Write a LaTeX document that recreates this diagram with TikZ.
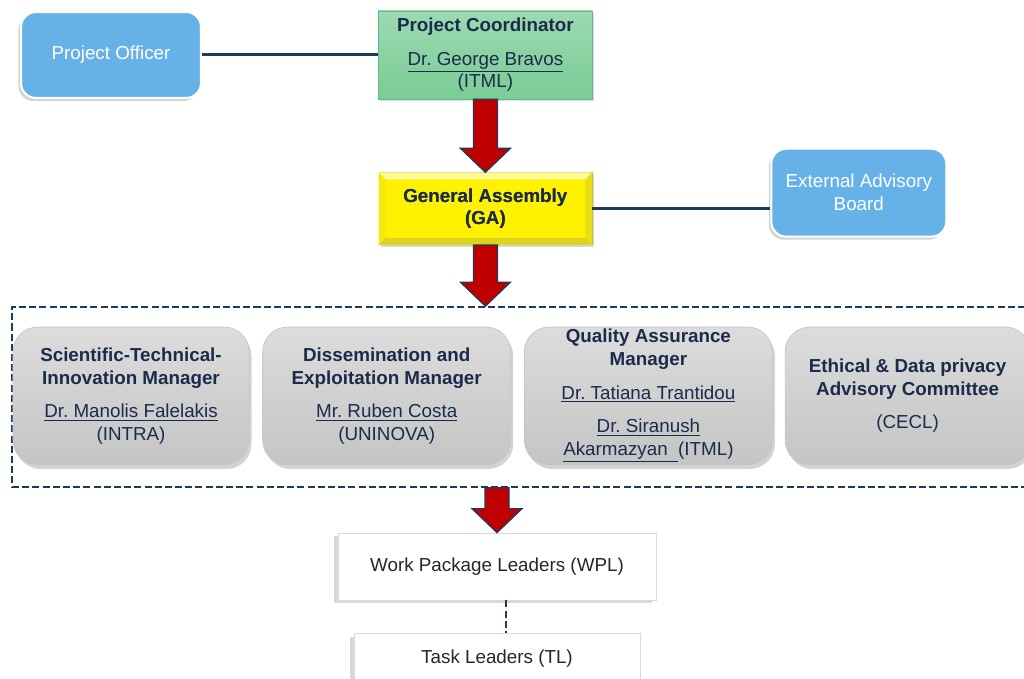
\documentclass[tikz,border=0pt]{standalone}
\usepackage{fontspec}
\setmainfont{Liberation Sans}
\usetikzlibrary{positioning}
\usetikzlibrary{calc}
\usetikzlibrary{shadows}

\definecolor{navy}{HTML}{1B2B4B}
\definecolor{linenavy}{HTML}{1F3B5C}
\definecolor{officeblue}{HTML}{66B2E8}
\definecolor{arrowred}{HTML}{C00000}
\definecolor{coordgreen}{HTML}{5BBF82}

% big red block arrow pointing down, from #1 to #2
\newcommand{\redarrow}[2]{%
  \draw[arrowbody] ($(#1)+(-0.24,0)$) -- ($(#2)+(-0.24,0.48)$) -- ($(#2)+(-0.5,0.48)$) -- (#2)
    -- ($(#2)+(0.5,0.48)$) -- ($(#2)+(0.24,0.48)$) -- ($(#1)+(0.24,0)$) -- cycle;}

\begin{document}
\frenchspacing
\begin{tikzpicture}[font=\fontsize{10.7}{13}\selectfont,
  bluebox/.style={draw=white,line width=1.2pt,fill=officeblue,text=white,rounded corners=0.3cm,
    minimum width=3.6cm,minimum height=1.72cm,align=center,drop shadow={shadow xshift=-0.05cm,shadow yshift=-0.06cm,opacity=0.35}},
  graybox/.style={draw=gray!45,top color=gray!27,bottom color=gray!46,rounded corners=0.5cm,text=navy,
    minimum width=4.9cm,minimum height=2.76cm,inner sep=0pt,align=center,drop shadow={shadow xshift=0.05cm,shadow yshift=-0.08cm,opacity=0.35}},
  whitebox/.style={draw=gray!30,fill=white,text=black!85,align=center,
    drop shadow={shadow xshift=-0.08cm,shadow yshift=-0.06cm,opacity=0.3}},
  arrowbody/.style={fill=arrowred,draw=linenavy,line width=0.7pt,line join=miter},
  link/.style={draw=linenavy,line width=1.7pt},
  dashline/.style={draw=linenavy,line width=0.9pt,dash pattern=on 4pt off 1.8pt}]
  \useasboundingbox (0,0) rectangle (20.48,-13.58);

  \node[bluebox, name=officer] at (2.22,-1.10) {Project Officer};
  \node[draw=coordgreen,top color={rgb,255:red,156;green,218;blue,178},bottom color={rgb,255:red,122;green,203;blue,149},
    text=navy,minimum width=4.28cm,minimum height=1.76cm,inner sep=0pt,align=center,
    drop shadow={shadow xshift=0.03cm,shadow yshift=-0.04cm,opacity=0.25},
    name=coord, right=3.52cm of officer] {\textbf{Project Coordinator}\\[6pt]\underline{Dr. George Bravos}\\(ITML)};
  \node[draw=yellow!70!black,fill=yellow,text=navy,minimum width=4.26cm,minimum height=1.44cm,align=center,
    drop shadow={shadow xshift=0.04cm,shadow yshift=-0.05cm,opacity=0.3},
    name=ga, below=1.46cm of coord] {\textbf{General Assembly}\\\textbf{(GA)}};
  % bevel of the assembly box
  \fill[yellow!40!white] (ga.north west) -- (ga.north east) -- ([shift={(-0.14,-0.14)}]ga.north east) -- ([shift={(0.14,-0.14)}]ga.north west) -- cycle;
  \fill[yellow!95!black] (ga.north west) -- ([shift={(0.14,-0.14)}]ga.north west) -- ([shift={(0.14,0.14)}]ga.south west) -- (ga.south west) -- cycle;
  \fill[yellow!90!black] (ga.north east) -- ([shift={(-0.14,-0.14)}]ga.north east) -- ([shift={(-0.14,0.14)}]ga.south east) -- (ga.south east) -- cycle;
  \fill[yellow!85!black] (ga.south west) -- ([shift={(0.14,0.14)}]ga.south west) -- ([shift={(-0.14,0.14)}]ga.south east) -- (ga.south east) -- cycle;
  \node[text=navy,align=center] at (ga) {\textbf{General Assembly}\\\textbf{(GA)}};
  \node[bluebox, minimum width=3.5cm, minimum height=1.76cm, name=eab, right=3.56cm of ga, yshift=0.32cm] {External Advisory\\Board};

  \draw[link] (officer) -- (coord);
  \draw[link] (ga.east) -- (ga.east -| eab.west);

  \node[dashline, draw, minimum width=20.56cm, minimum height=3.6cm, name=frame] at (10.52,-7.94) {};
  \node[graybox, minimum width=4.72cm, name=stim] at (2.62,-7.92)
    {\textbf{Scientific-Technical-}\\\textbf{Innovation Manager}\\[6pt]\underline{Dr. Manolis Falelakis}\\(INTRA)};
  \node[graybox, minimum width=4.96cm, name=dem, right=0.26cm of stim]
    {\textbf{Dissemination and}\\\textbf{Exploitation Manager}\\[6pt]\underline{Mr. Ruben Costa}\\(UNINOVA)};
  \node[graybox, minimum width=4.96cm, name=qam, right=0.26cm of dem]
    {\textbf{Quality Assurance}\\\textbf{Manager}\\[6pt]\underline{Dr. Tatiana Trantidou}\\[6pt]\underline{Dr. Siranush}\\\underline{Akarmazyan\ \ }(ITML)};
  \node[graybox, minimum width=4.9cm, name=ethics, right=0.24cm of qam]
    {\textbf{Ethical \& Data privacy}\\\textbf{Advisory Committee}\\[6pt](CECL)};

  \node[whitebox, minimum width=6.36cm, minimum height=1.34cm, name=wpl] at (9.94,-11.33) {Work Package Leaders (WPL)};
  \node[whitebox, minimum width=5.72cm, minimum height=1.0cm, name=tl, below=0.66cm of wpl] {Task Leaders (TL)};

  \coordinate (gatop) at (ga.south |- frame.north);
  \coordinate (framebot) at (wpl.north |- frame.south);
  \redarrow{coord.south}{ga.north}
  \redarrow{ga.south}{gatop}
  \redarrow{framebot}{wpl.north}

  \draw[dashline] ([xshift=0.18cm]wpl.south) -- ([xshift=0.18cm]wpl.south |- tl.north);
\end{tikzpicture}
\end{document}
